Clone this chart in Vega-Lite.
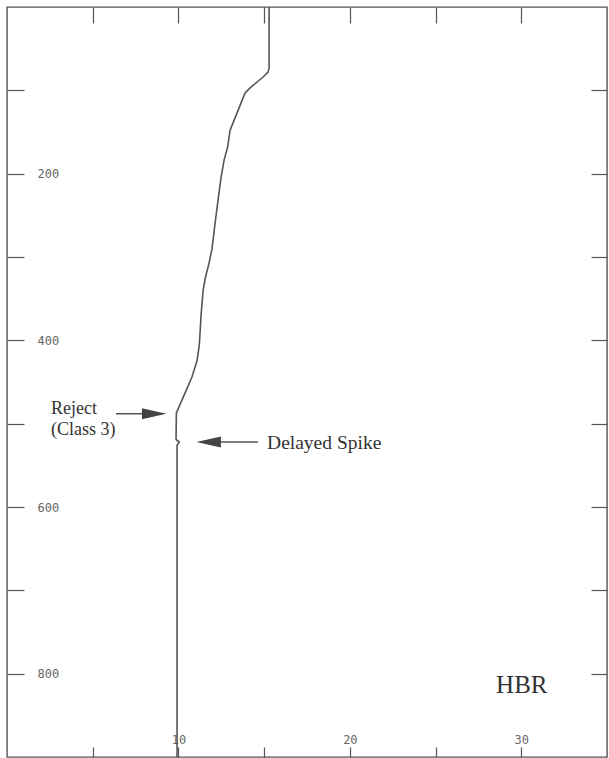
{
  "$schema": "https://vega.github.io/schema/vega-lite/v6.json",
  "width": 600,
  "height": 750,
  "autosize": {"type": "none"},
  "padding": {"left": 7, "top": 7, "right": 2, "bottom": 1},
  "background": "white",
  "config": {
    "view": {"stroke": "#555", "strokeWidth": 1.4},
    "axis": {"grid": false, "domain": false, "title": null, "tickColor": "#555", "tickWidth": 1.2, "labelFont": "DejaVu Sans Mono", "labelFontSize": 12, "labelColor": "#666"}
  },
  "resolve": {"axis": {"x": "independent", "y": "independent"}},
  "layer": [
    {
      "data": {"values": [
        {"hbr": 15.29, "t": 0}, {"hbr": 15.29, "t": 73}, {"hbr": 15.23, "t": 78}, {"hbr": 14.94, "t": 84},
        {"hbr": 14.59, "t": 90}, {"hbr": 14.18, "t": 97}, {"hbr": 13.89, "t": 103}, {"hbr": 13.71, "t": 112},
        {"hbr": 13.48, "t": 124}, {"hbr": 13.30, "t": 133}, {"hbr": 13.01, "t": 148}, {"hbr": 12.87, "t": 168},
        {"hbr": 12.66, "t": 184}, {"hbr": 12.49, "t": 204}, {"hbr": 12.31, "t": 232}, {"hbr": 12.14, "t": 259},
        {"hbr": 11.96, "t": 290}, {"hbr": 11.78, "t": 308}, {"hbr": 11.58, "t": 324}, {"hbr": 11.44, "t": 340},
        {"hbr": 11.32, "t": 370}, {"hbr": 11.22, "t": 405}, {"hbr": 11.09, "t": 424}, {"hbr": 10.79, "t": 444},
        {"hbr": 10.39, "t": 463}, {"hbr": 10.05, "t": 479}, {"hbr": 9.88, "t": 487}, {"hbr": 9.86, "t": 519},
        {"hbr": 10.05, "t": 522}, {"hbr": 9.92, "t": 526}, {"hbr": 9.92, "t": 900}
      ]},
      "mark": {"type": "line", "color": "#555", "strokeWidth": 1.6},
      "encoding": {
        "x": {"field": "hbr", "type": "quantitative", "scale": {"domain": [0, 35], "nice": false, "zero": false},
          "axis": {"orient": "bottom", "values": [5, 10, 15, 20, 25, 30], "tickSize": -10, "labelBaseline": "bottom", "labelPadding": -1,
            "labelExpr": "datum.value % 10 === 0 ? datum.label : ''", "labelFlush": false}},
        "y": {"field": "t", "type": "quantitative", "scale": {"domain": [0, 900], "nice": false, "zero": false, "reverse": true},
          "axis": {"orient": "left", "values": [100, 200, 300, 400, 500, 600, 700, 800], "tickSize": -17, "labelAlign": "left", "labelPadding": -13,
            "labelExpr": "datum.value % 200 === 0 ? datum.label : ''"}},
        "order": {"field": "t", "type": "quantitative"}
      }
    },
    {
      "data": {"values": [
        {"x1": 6.36, "x2": 8.8, "t": 488},
        {"x1": 11.5, "x2": 14.64, "t": 522}
      ]},
      "mark": {"type": "rule", "color": "#555", "strokeWidth": 1.5},
      "encoding": {
        "x": {"field": "x1", "type": "quantitative", "scale": {"domain": [0, 35], "nice": false, "zero": false},
          "axis": {"orient": "top", "values": [5, 10, 15, 20, 25, 30], "tickSize": -16, "labels": false}},
        "x2": {"field": "x2"},
        "y": {"field": "t", "type": "quantitative", "scale": {"domain": [0, 900], "nice": false, "zero": false, "reverse": true},
          "axis": {"orient": "right", "values": [100, 200, 300, 400, 500, 600, 700, 800], "tickSize": -16, "labels": false}}
      }
    },
    {
      "data": {"values": [{"x": 9.3, "t": 488}]},
      "mark": {"type": "point", "shape": "M-2,-0.45L0,0L-2,0.45Z", "size": 600, "filled": true, "color": "#444", "opacity": 1},
      "encoding": {
        "x": {"field": "x", "type": "quantitative", "scale": {"domain": [0, 35], "nice": false, "zero": false}, "axis": null},
        "y": {"field": "t", "type": "quantitative", "scale": {"domain": [0, 900], "nice": false, "zero": false, "reverse": true}, "axis": null}
      }
    },
    {
      "data": {"values": [{"x": 11.05, "t": 522}]},
      "mark": {"type": "point", "shape": "M2,-0.45L0,0L2,0.45Z", "size": 600, "filled": true, "color": "#444", "opacity": 1},
      "encoding": {
        "x": {"field": "x", "type": "quantitative", "scale": {"domain": [0, 35], "nice": false, "zero": false}, "axis": null},
        "y": {"field": "t", "type": "quantitative", "scale": {"domain": [0, 900], "nice": false, "zero": false, "reverse": true}, "axis": null}
      }
    },
    {
      "data": {"values": [
        {"label": "Reject", "x": 2.57, "t": 488},
        {"label": "(Class 3)", "x": 2.57, "t": 513}
      ]},
      "mark": {"type": "text", "font": "Liberation Serif", "fontSize": 18, "color": "#333", "align": "left", "baseline": "alphabetic"},
      "encoding": {
        "x": {"field": "x", "type": "quantitative", "scale": {"domain": [0, 35], "nice": false, "zero": false}, "axis": null},
        "y": {"field": "t", "type": "quantitative", "scale": {"domain": [0, 900], "nice": false, "zero": false, "reverse": true}, "axis": null},
        "text": {"field": "label"}
      }
    },
    {
      "data": {"values": [
        {"label": "Delayed Spike", "x": 15.17, "t": 530}
      ]},
      "mark": {"type": "text", "font": "Liberation Serif", "fontSize": 19.5, "color": "#333", "align": "left", "baseline": "alphabetic"},
      "encoding": {
        "x": {"field": "x", "type": "quantitative", "scale": {"domain": [0, 35], "nice": false, "zero": false}, "axis": null},
        "y": {"field": "t", "type": "quantitative", "scale": {"domain": [0, 900], "nice": false, "zero": false, "reverse": true}, "axis": null},
        "text": {"field": "label"}
      }
    },
    {
      "data": {"values": [{"label": "HBR", "x": 28.53, "t": 823}]},
      "mark": {"type": "text", "font": "Liberation Serif", "fontSize": 25, "color": "#333", "align": "left", "baseline": "alphabetic"},
      "encoding": {
        "x": {"field": "x", "type": "quantitative", "scale": {"domain": [0, 35], "nice": false, "zero": false}, "axis": null},
        "y": {"field": "t", "type": "quantitative", "scale": {"domain": [0, 900], "nice": false, "zero": false, "reverse": true}, "axis": null},
        "text": {"field": "label"}
      }
    }
  ]
}
